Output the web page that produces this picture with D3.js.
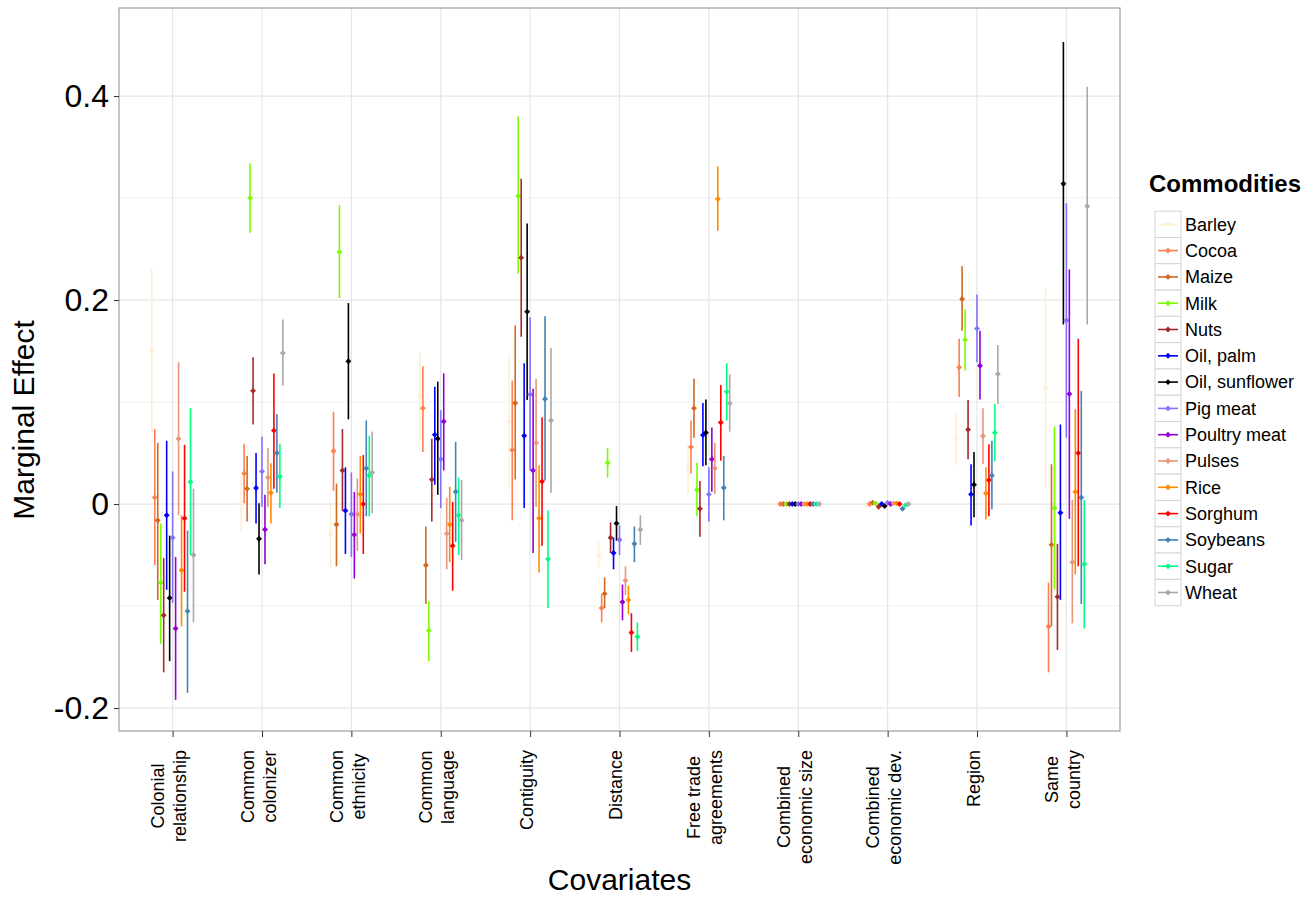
<!DOCTYPE html>
<html><head><meta charset="utf-8">
<script src="https://cdn.jsdelivr.net/npm/d3@7"></script>
<style>
body{margin:0;background:#fff}
svg{display:block}
text{font-family:"Liberation Sans",Arial,Helvetica,sans-serif;fill:#000}
</style>
</head><body>
<script>
// ---------- data ----------
const covariates = ["Colonial relationship","Common colonizer","Common ethnicity","Common language","Contiguity","Distance","Free trade agreements","Combined economic size","Combined economic dev.","Region","Same country"];
const covariateLabels = [["Colonial","relationship"],["Common","colonizer"],["Common","ethnicity"],["Common","language"],["Contiguity"],["Distance"],["Free trade","agreements"],["Combined","economic size"],["Combined","economic dev."],["Region"],["Same","country"]];
const commodities = ["Barley","Cocoa","Maize","Milk","Nuts","Oil, palm","Oil, sunflower","Pig meat","Poultry meat","Pulses","Rice","Sorghum","Soybeans","Sugar","Wheat"];
const commodityColors = ["#FFEFD2","#FF7F50","#D2691E","#7CFC00","#A52A2A","#0000FF","#000000","#8470FF","#9400D3","#E9967A","#FF8C00","#FF0000","#4682B4","#00FF7F","#A9A9A9"];

// rows = covariates (same order as above), columns = commodities
const estimate = [
  [0.150, 0.0065, -0.016, -0.077, -0.109, -0.011, -0.092, -0.033, -0.122, 0.064, -0.065, -0.014, -0.105, 0.0216, -0.050],
  [0.0007, 0.030, 0.015, 0.300, 0.111, 0.0157, -0.034, 0.032, -0.025, 0.026, 0.011, 0.072, 0.050, 0.027, 0.148],
  [-0.030, 0.052, -0.020, 0.247, 0.033, -0.0065, 0.140, -0.010, -0.030, -0.010, 0.0095, 0.0, 0.035, 0.028, 0.031],
  [0.106, 0.094, -0.060, -0.124, 0.024, 0.068, 0.064, 0.044, 0.081, -0.029, -0.020, -0.041, 0.012, -0.011, -0.016],
  [0.081, 0.053, 0.099, 0.302, 0.2415, 0.067, 0.1886, 0.1075, 0.033, 0.060, -0.014, 0.022, 0.103, -0.054, 0.082],
  [-0.050, -0.102, -0.088, 0.0405, -0.033, -0.048, -0.019, -0.035, -0.096, -0.075, -0.094, -0.126, -0.039, -0.130, -0.025],
  [0.034, 0.056, 0.094, 0.014, -0.0046, 0.0676, 0.070, 0.0095, 0.044, 0.035, 0.299, 0.080, 0.016, 0.110, 0.0987],
  [0, 0, 0, 0, 0, 0, 0, 0, 0, 0, 0, 0, 0, 0, 0],
  [-0.001, 0, 0.0013, 0.0007, -0.0026, 0, -0.002, 0.0013, 0, 0.0007, 0.0007, 0, -0.0046, -0.001, 0],
  [0.064, 0.134, 0.201, 0.161, 0.073, 0.0095, 0.019, 0.172, 0.1356, 0.0667, 0.0105, 0.0235, 0.028, 0.070, 0.1275],
  [0.114, -0.120, -0.040, -0.004, -0.091, -0.0085, 0.314, 0.180, 0.108, -0.057, 0.012, 0.050, 0.0064, -0.059, 0.292]
];
const lowerCI = [
  [0.069, -0.060, -0.094, -0.137, -0.165, -0.084, -0.154, -0.097, -0.192, -0.011, -0.120, -0.086, -0.185, -0.050, -0.116],
  [-0.027, 0.0007, -0.017, 0.266, 0.078, -0.019, -0.069, -0.003, -0.059, -0.003, -0.019, 0.015, 0.011, -0.004, 0.116],
  [-0.063, 0.013, -0.061, 0.202, -0.007, -0.049, 0.083, -0.052, -0.073, -0.046, -0.029, -0.049, -0.012, -0.012, -0.009],
  [0.063, 0.051, -0.098, -0.154, -0.017, 0.019, 0.009, -0.004, 0.033, -0.064, -0.057, -0.085, -0.037, -0.050, -0.055],
  [0.015, -0.016, 0.024, 0.226, 0.164, -0.004, 0.102, 0.033, -0.048, -0.003, -0.067, -0.041, 0.023, -0.102, 0.011],
  [-0.064, -0.116, -0.102, 0.026, -0.048, -0.064, -0.036, -0.050, -0.114, -0.089, -0.108, -0.145, -0.057, -0.144, -0.040],
  [0.0095, 0.030, 0.065, -0.012, -0.032, 0.037, 0.038, -0.017, 0.012, 0.0098, 0.268, 0.0425, -0.016, 0.082, 0.071],
  [-0.001, -0.001, -0.001, -0.001, -0.001, -0.001, -0.001, -0.001, -0.001, -0.001, -0.001, -0.001, -0.001, -0.001, -0.001],
  [-0.002, -0.001, 0.0003, -0.0003, -0.0036, -0.001, -0.003, 0.0003, -0.001, -0.0003, -0.0003, -0.001, -0.0056, -0.002, -0.001],
  [0.038, 0.105, 0.170, 0.131, 0.044, -0.021, -0.013, 0.139, 0.1026, 0.039, -0.015, -0.012, -0.005, 0.042, 0.098],
  [0.016, -0.165, -0.120, -0.084, -0.143, -0.094, 0.176, 0.065, -0.0145, -0.117, -0.069, -0.061, -0.098, -0.122, 0.176]
];
const upperCI = [
  [0.231, 0.0735, 0.060, -0.019, -0.053, 0.062, -0.031, 0.032, -0.052, 0.139, -0.011, 0.058, -0.026, 0.094, 0.015],
  [0.028, 0.059, 0.047, 0.334, 0.144, 0.050, 0.0007, 0.066, 0.009, 0.055, 0.040, 0.128, 0.088, 0.059, 0.181],
  [0.002, 0.0905, 0.020, 0.293, 0.0735, 0.036, 0.197, 0.031, 0.012, 0.025, 0.047, 0.048, 0.082, 0.067, 0.071],
  [0.149, 0.135, -0.022, -0.095, 0.064, 0.115, 0.120, 0.092, 0.128, 0.006, 0.017, 0.002, 0.061, 0.026, 0.0235],
  [0.147, 0.121, 0.175, 0.380, 0.319, 0.138, 0.275, 0.183, 0.113, 0.1225, 0.038, 0.085, 0.184, -0.006, 0.153],
  [-0.037, -0.088, -0.072, 0.055, -0.018, -0.033, -0.002, -0.021, -0.079, -0.061, -0.080, -0.107, -0.022, -0.116, -0.011],
  [0.058, 0.082, 0.123, 0.0405, 0.0225, 0.099, 0.1026, 0.036, 0.075, 0.060, 0.331, 0.1167, 0.047, 0.138, 0.127],
  [0.001, 0.001, 0.001, 0.001, 0.001, 0.001, 0.001, 0.001, 0.001, 0.001, 0.001, 0.001, 0.001, 0.001, 0.001],
  [0, 0.001, 0.0023, 0.0017, -0.0016, 0.001, -0.001, 0.0023, 0.001, 0.0017, 0.0017, 0.001, -0.0036, 0, 0.001],
  [0.090, 0.162, 0.233, 0.191, 0.102, 0.039, 0.051, 0.2055, 0.170, 0.094, 0.036, 0.0585, 0.062, 0.098, 0.156],
  [0.212, -0.077, 0.039, 0.076, -0.039, 0.078, 0.453, 0.295, 0.230, 0.004, 0.093, 0.162, 0.111, 0.004, 0.409]
];
const yMajorTicks = [0.4, 0.2, 0, -0.2];
const yTickLabels = ["0.4", "0.2", "0", "-0.2"];
const yMinorTicks = [0.3, 0.1, -0.1];
const xTitle = "Covariates";
const yTitle = "Marginal Effect";
const legendTitle = "Commodities";

// ---------- layout ----------
const W = 1310, H = 897;
const P = {left: 119, right: 1120, top: 8, bottom: 731};

const svg = d3.select("body").append("svg").attr("width", W).attr("height", H);

const x = d3.scalePoint().domain(covariates).range([P.left, P.right]).padding(0.6);
const dodge = d3.scaleBand().domain(commodities).range([-x.step() * 0.25, x.step() * 0.25]);
const y = d3.scaleLinear().domain([-0.2225, 0.4863]).range([P.bottom, P.top]);
const color = d3.scaleOrdinal().domain(commodities).range(commodityColors);

// panel background + grid
svg.append("rect").attr("x", P.left).attr("y", P.top).attr("width", P.right - P.left).attr("height", P.bottom - P.top).attr("fill", "#fff");
const grid = svg.append("g");
grid.selectAll("line.minor").data(yMinorTicks).join("line")
  .attr("x1", P.left).attr("x2", P.right).attr("y1", d => y(d)).attr("y2", d => y(d))
  .attr("stroke", "#f3f3f3").attr("stroke-width", 1);
grid.selectAll("line.major").data(yMajorTicks).join("line")
  .attr("x1", P.left).attr("x2", P.right).attr("y1", d => y(d)).attr("y2", d => y(d))
  .attr("stroke", "#e6e6e6").attr("stroke-width", 1.2);
grid.selectAll("line.vx").data(covariates).join("line")
  .attr("x1", d => x(d)).attr("x2", d => x(d)).attr("y1", P.top).attr("y2", P.bottom)
  .attr("stroke", "#e6e6e6").attr("stroke-width", 1.2);

// data rows
const rows = [];
covariates.forEach((cv, i) => commodities.forEach((cm, j) => {
  rows.push({cov: cv, com: cm, est: estimate[i][j], lo: lowerCI[i][j], hi: upperCI[i][j]});
}));
const px = d => x(d.cov) + dodge(d.com) + dodge.bandwidth() / 2;

const marks = svg.append("g");
const mg = marks.selectAll("g").data(rows).join("g");
mg.append("line")
  .attr("x1", px).attr("x2", px)
  .attr("y1", d => y(d.lo)).attr("y2", d => y(d.hi))
  .attr("stroke", d => color(d.com)).attr("stroke-width", 1.6);
const diamond = d3.symbol().type(d3.symbolDiamond2).size(22);
mg.append("path")
  .attr("d", diamond)
  .attr("transform", d => `translate(${px(d)},${y(d.est)})`)
  .attr("fill", d => color(d.com));

// panel border
svg.append("rect").attr("x", P.left).attr("y", P.top).attr("width", P.right - P.left).attr("height", P.bottom - P.top)
  .attr("fill", "none").attr("stroke", "#8c8c8c").attr("stroke-width", 1);

// y axis
const yAxis = svg.append("g").attr("transform", `translate(${P.left},0)`)
  .call(d3.axisLeft(y).tickValues(yMajorTicks).tickFormat((d, i) => yTickLabels[i]).tickSize(5).tickPadding(5));
yAxis.select(".domain").remove();
yAxis.selectAll("line").attr("stroke", "#333");
yAxis.selectAll("text").attr("font-size", 32).attr("fill", "#000").attr("font-family", '"Liberation Sans",Arial,sans-serif');

// x axis
const xAxis = svg.append("g").attr("transform", `translate(0,${P.bottom})`)
  .call(d3.axisBottom(x).tickSize(6).tickFormat(""));
xAxis.select(".domain").remove();
xAxis.selectAll("line").attr("stroke", "#333");

// rotated x labels
const lineGap = 22;
covariates.forEach((cv, i) => {
  const lines = covariateLabels[i];
  const g = svg.append("g");
  const texts = lines.map(l => g.append("text").attr("font-size", 18).attr("text-anchor", "middle").text(l));
  const maxW = d3.max(texts, t => t.node().getComputedTextLength());
  const cy = 750 + maxW / 2;
  const n = lines.length;
  texts.forEach((t, k) => {
    const offset = (k - (n - 1) / 2) * lineGap - 4 + 6.5; // screen-x offset of baseline
    t.attr("transform", `translate(${x(cv) + offset},${cy}) rotate(-90)`);
  });
});

// axis titles
svg.append("text").attr("x", (P.left + P.right) / 2).attr("y", 890).attr("text-anchor", "middle")
  .attr("font-size", 30).text(xTitle);
svg.append("text").attr("transform", `translate(34,420) rotate(-90)`).attr("text-anchor", "middle")
  .attr("font-size", 30).text(yTitle);

// legend
const lg = svg.append("g");
lg.append("text").attr("x", 1149).attr("y", 192).attr("font-size", 24).attr("font-weight", "bold").text(legendTitle);
const rowH = 26.3, row0 = 224.3;
const items = lg.selectAll("g.item").data(commodities).join("g")
  .attr("transform", (d, i) => `translate(0,${row0 + i * rowH})`);
items.append("rect").attr("x", 1155).attr("y", -rowH / 2).attr("width", 26).attr("height", rowH)
  .attr("fill", "#fff").attr("stroke", "#d4d4d4").attr("stroke-width", 1);
items.append("line").attr("x1", 1158).attr("x2", 1178).attr("y1", 0).attr("y2", 0)
  .attr("stroke", d => color(d)).attr("stroke-width", 1.6);
items.append("path").attr("d", diamond).attr("transform", "translate(1168,0)").attr("fill", d => color(d));
items.append("text").attr("x", 1185).attr("y", 0).attr("dy", "0.35em").attr("font-size", 18).text(d => d);
</script>
</body></html>
